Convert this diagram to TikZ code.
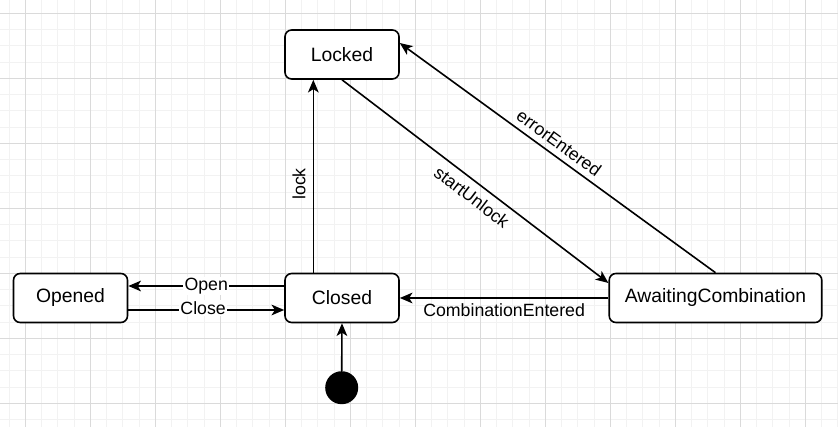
\documentclass[tikz,border=0pt]{standalone}
\usepackage{fontspec}
\setmainfont{Liberation Sans}
\usepackage{xcolor}
\usetikzlibrary{arrows.meta}
\definecolor{bg}{HTML}{FFFFFF}
\definecolor{text}{HTML}{000000}
\definecolor{gridmin}{HTML}{F2F2F2}
\definecolor{gridmaj}{HTML}{DADADA}
\tikzset{
  minorgrid/.style={draw=gridmin, line width=0.75pt},
  majorgrid/.style={draw=gridmaj, line width=0.75pt},
  state/.style={draw=text, fill=bg, line width=1.2pt, rounded corners=5pt,
    minimum width=85.5pt, minimum height=36.75pt, inner sep=0pt,
    font=\fontsize{14.5}{17}\selectfont},
  edge/.style={draw=text, line width=1.2pt,
    -{Stealth[length=9.5pt, width=8pt, inset=2.5pt]}},
  dot/.style={circle, fill=text, minimum size=24.75pt, inner sep=0pt},
  labs/.style={text=text, font=\fontsize{13.3}{16}\selectfont},
  labw/.style={labs, fill=bg, inner sep=1pt},
}
\begin{document}
\begin{tikzpicture}[x=0.75pt,y=-0.75pt]
  \useasboundingbox (0,0) rectangle (838,427);
  \fill[bg] (0,0) rectangle (838,427);
  % grid
  \foreach \k in {0,...,51}{\draw[minorgrid] (9.05+16.25*\k,0) -- (9.05+16.25*\k,427);}
  \foreach \k in {0,...,25}{\draw[minorgrid] (0,13.3+16.25*\k) -- (838,13.3+16.25*\k);}
  \foreach \k in {0,...,12}{\draw[majorgrid] (25.3+65*\k,0) -- (25.3+65*\k,427);}
  \foreach \k in {0,...,6}{\draw[majorgrid] (0,13.3+65*\k) -- (838,13.3+65*\k);}
  % states
  \node[state] (Locked) at (342,54.5) {Locked};
  \node[state] (Opened) at (70.5,298) {Opened};
  \node[state] (Closed) at (342,298) {Closed};
  \node[state, minimum width=159.4pt] (Awaiting) at (715.5,298) {AwaitingCombination};
  \node[dot] (init) at (341.7,387.7) {};
  % transitions
  \draw[edge] ([yshift=9pt]Closed.west) -- node[labw, pos=0.5] {Open} ([yshift=9pt]Opened.east);
  \draw[edge] ([yshift=-9pt]Opened.east) -- node[labw, pos=0.48, yshift=1.5pt] {Close} ([yshift=-9pt]Closed.west);
  \draw[edge] (init.north) -- (Closed.south);
  \draw[edge] ([xshift=-21.5pt]Closed.north) -- node[labs, pos=0.46, sloped, above=2pt] {lock} ([xshift=-21.5pt]Locked.south);
  \draw[edge] (Locked.south) -- node[labs, pos=0.52, sloped, below=2pt] {startUnlock} ([yshift=11.25pt]Awaiting.west);
  \draw[edge] (Awaiting.north) -- node[labs, pos=0.52, sloped, above=1pt] {errorEntered} ([yshift=8.6pt]Locked.east);
  \draw[edge] (Awaiting.west) -- node[labs, pos=0.5, below=0pt] {CombinationEntered} (Closed.east);
\end{tikzpicture}
\end{document}
